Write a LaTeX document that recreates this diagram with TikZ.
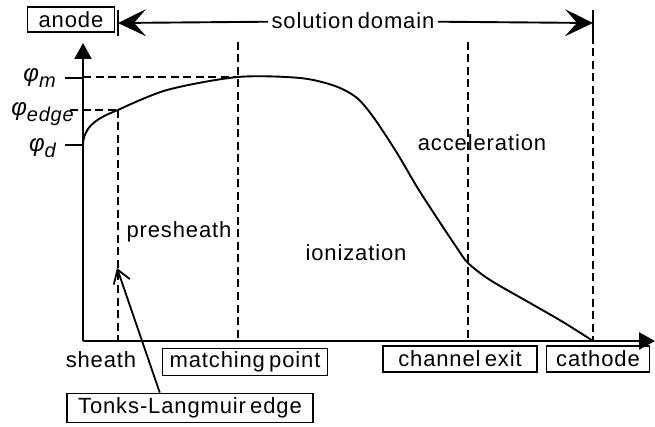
\documentclass[tikz,border=0pt]{standalone}
\usepackage{fontspec}
\setmainfont{Liberation Sans}[LetterSpace=4,WordSpace=0.6]
\usetikzlibrary{arrows.meta,calc}
\newcommand{\potlabel}[1]{{\itshape\fontsize{24pt}{26pt}\selectfont φ\raisebox{-0.5ex}{\fontsize{20pt}{22pt}\selectfont #1}}}

\begin{document}
\begin{tikzpicture}[yscale=-1
,font=\fontsize{22pt}{24pt}\selectfont
,axisstyle/.style={line width=2.2pt}
,dashstyle/.style={line width=1.9pt,dash pattern=on 8pt off 4.5pt}
,curvestyle/.style={line width=1.9pt}
,boxstyle/.style={draw,line width=1.7pt,inner sep=1.5pt,minimum height=27pt}
,domarrow/.style={line width=1.9pt,-{Stealth[length=28pt,width=27pt,inset=12pt]}}
,tlarrow/.style={line width=1.8pt,-{Straight Barb[length=13pt,width=17pt]}}
,potstyle/.style={anchor=east,inner sep=0pt}
]
\useasboundingbox (0pt,0pt) rectangle (655pt,427pt);
\coordinate (o) at (83pt,341pt);
\coordinate (ytip) at (83pt,43pt);
\coordinate (xtip) at (655pt,341pt);
\draw[axisstyle,-{Triangle[length=16pt,width=17pt]}] (o) -- (ytip);
\draw[axisstyle,-{Triangle[length=16pt,width=17pt]}] (o) -- (xtip);
\node[boxstyle,minimum width=87pt,minimum height=25pt] (anode) at (71pt,19.5pt) {anode};
\coordinate (sdl) at (118pt,23pt);
\coordinate (sdr) at (593pt,23pt);
\node (sd) at (353pt,21pt) {solution domain};
\draw[line width=1.9pt] (118pt,10pt) -- (118pt,36pt);
\draw[line width=1.9pt] (593pt,10pt) -- (593pt,36pt);
\draw[domarrow] (sd) -- (sdl);
\draw[domarrow] (sd) -- (sdr);
\coordinate (pedge) at (118pt,110pt);
\coordinate (pmatch) at (238pt,77pt);
\coordinate (pexit) at (468pt,263pt);
\coordinate (pcath) at (593pt,341pt);
\draw[dashstyle] (pedge) -- (pedge |- o);
\draw[dashstyle] (238pt,42pt) -- (pmatch |- o);
\draw[dashstyle] (468pt,42pt) -- (pexit |- o);
\draw[dashstyle] (593pt,36pt) -- (pcath);
\draw[dashstyle] (o |- pmatch) -- (pmatch);
\draw[dashstyle] (70pt,110pt) -- (pedge);
\draw[axisstyle] (65pt,78pt) -- (83pt,78pt);
\draw[axisstyle] (65pt,145pt) -- (83pt,145pt);
\node[potstyle] (phim) at (56pt,78pt) {\potlabel{m}};
\node[potstyle] (phiedge) at (74pt,114pt) {\potlabel{edge}};
\node[potstyle] (phid) at (56pt,148pt) {\potlabel{d}};
\draw[curvestyle] (83pt,145pt) .. controls (83.5pt,127pt) and (96pt,118.5pt) .. (pedge);
\draw[curvestyle] plot[smooth,tension=0.5] coordinates {(pedge) (167pt,90pt) (pmatch) (300pt,78pt) (335pt,86pt) (357pt,98pt) (374pt,118pt) (397pt,153pt) (417pt,187pt) (437pt,218pt) (457pt,248pt) (pexit) (490pt,280pt) (530pt,303pt) (563pt,322pt) (pcath)};
\node (presheath) at (179pt,232pt) {presheath};
\node (ionization) at (356pt,253pt) {ionization};
\node (acceleration) at (482pt,143pt) {acceleration};
\node (sheath) at (101pt,360pt) {sheath};
\node[boxstyle,minimum width=165pt] (match) at (245pt,362pt) {matching point};
\node[boxstyle,minimum width=154pt,minimum height=26pt] (exit) at (460pt,359pt) {channel exit};
\node[boxstyle,minimum width=103pt,minimum height=26pt] (cathode) at (598pt,359pt) {cathode};
\node[boxstyle,minimum width=246pt,minimum height=29pt] (tl) at (190pt,408pt) {Tonks-Langmuir edge};
\coordinate (tltip) at (117pt,268pt);
\draw[tlarrow] ($(tl.north west)!0.378!(tl.north east)$) -- (tltip);
\end{tikzpicture}
\end{document}
